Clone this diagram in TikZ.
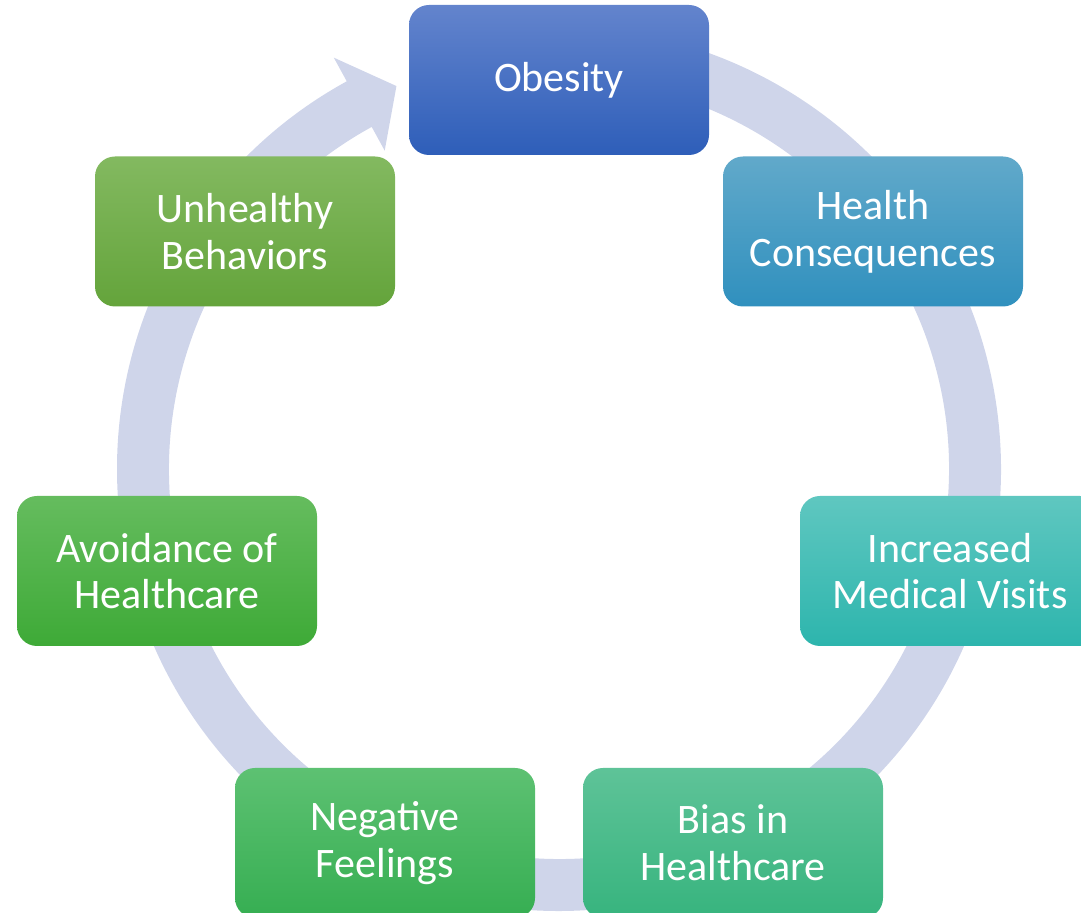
\documentclass[tikz,border=0pt]{standalone}
\usepackage{fontspec}
\setmainfont{Carlito}
\usepackage{tikz}
\usetikzlibrary{calc,positioning}

\definecolor{ringblue}{HTML}{CFD5EA}
\definecolor{obesityTop}{HTML}{6384CD}
\definecolor{obesityBot}{HTML}{2E5EB9}
\definecolor{healthTop}{HTML}{61A9CA}
\definecolor{healthBot}{HTML}{3090BE}
\definecolor{visitsTop}{HTML}{5FC7C0}
\definecolor{visitsBot}{HTML}{2DB5AD}
\definecolor{biasTop}{HTML}{5EC398}
\definecolor{biasBot}{HTML}{37B47E}
\definecolor{feelTop}{HTML}{5DC172}
\definecolor{feelBot}{HTML}{36AE52}
\definecolor{avoidTop}{HTML}{65BC5E}
\definecolor{avoidBot}{HTML}{3EAA37}
\definecolor{behavTop}{HTML}{83B960}
\definecolor{behavBot}{HTML}{64A43B}

\begin{document}
\begin{tikzpicture}[x=0.75pt, y=0.75pt,
  cyclebox/.style={rounded corners=15pt, minimum width=225pt, minimum height=112.5pt,
    inner sep=0pt, align=center, text=white, font=\fontsize{31.5}{35}\selectfont}]
    \useasboundingbox (0,0) rectangle (1081,913);
    \coordinate (C) at (559,444);
    % circular arrow behind the boxes
    \fill[ringblue] ($(C)+(95:442)$) arc[start angle=95, end angle=-241.3, radius=442]
      -- ($(C)+(-241.3:469)$) -- ($(C)+(-247:416)$) -- ($(C)+(-241.3:363)$)
      -- ($(C)+(-241.3:390)$) arc[start angle=-241.3, end angle=95, radius=390] -- cycle;
    % the seven steps
    \node (obesity) [cyclebox, top color=obesityTop, bottom color=obesityBot] at (559,833) {Obesity};
    \node (health) [cyclebox, top color=healthTop, bottom color=healthBot] at (873,681.5) {Health\\Consequences};
    \node (visits) [cyclebox, top color=visitsTop, bottom color=visitsBot] at (950,342) {Increased\\Medical Visits};
    \node (bias) [cyclebox, top color=biasTop, bottom color=biasBot] at (733,70) {Bias in\\Healthcare};
    \node (feelings) [cyclebox, top color=feelTop, bottom color=feelBot] at (385,70) {Negative\\Feelings};
    \node (avoidance) [cyclebox, top color=avoidTop, bottom color=avoidBot] at (167,342) {Avoidance of\\Healthcare};
    \node (behaviors) [cyclebox, top color=behavTop, bottom color=behavBot] at (245,681.5) {Unhealthy\\Behaviors};
\end{tikzpicture}
\end{document}
